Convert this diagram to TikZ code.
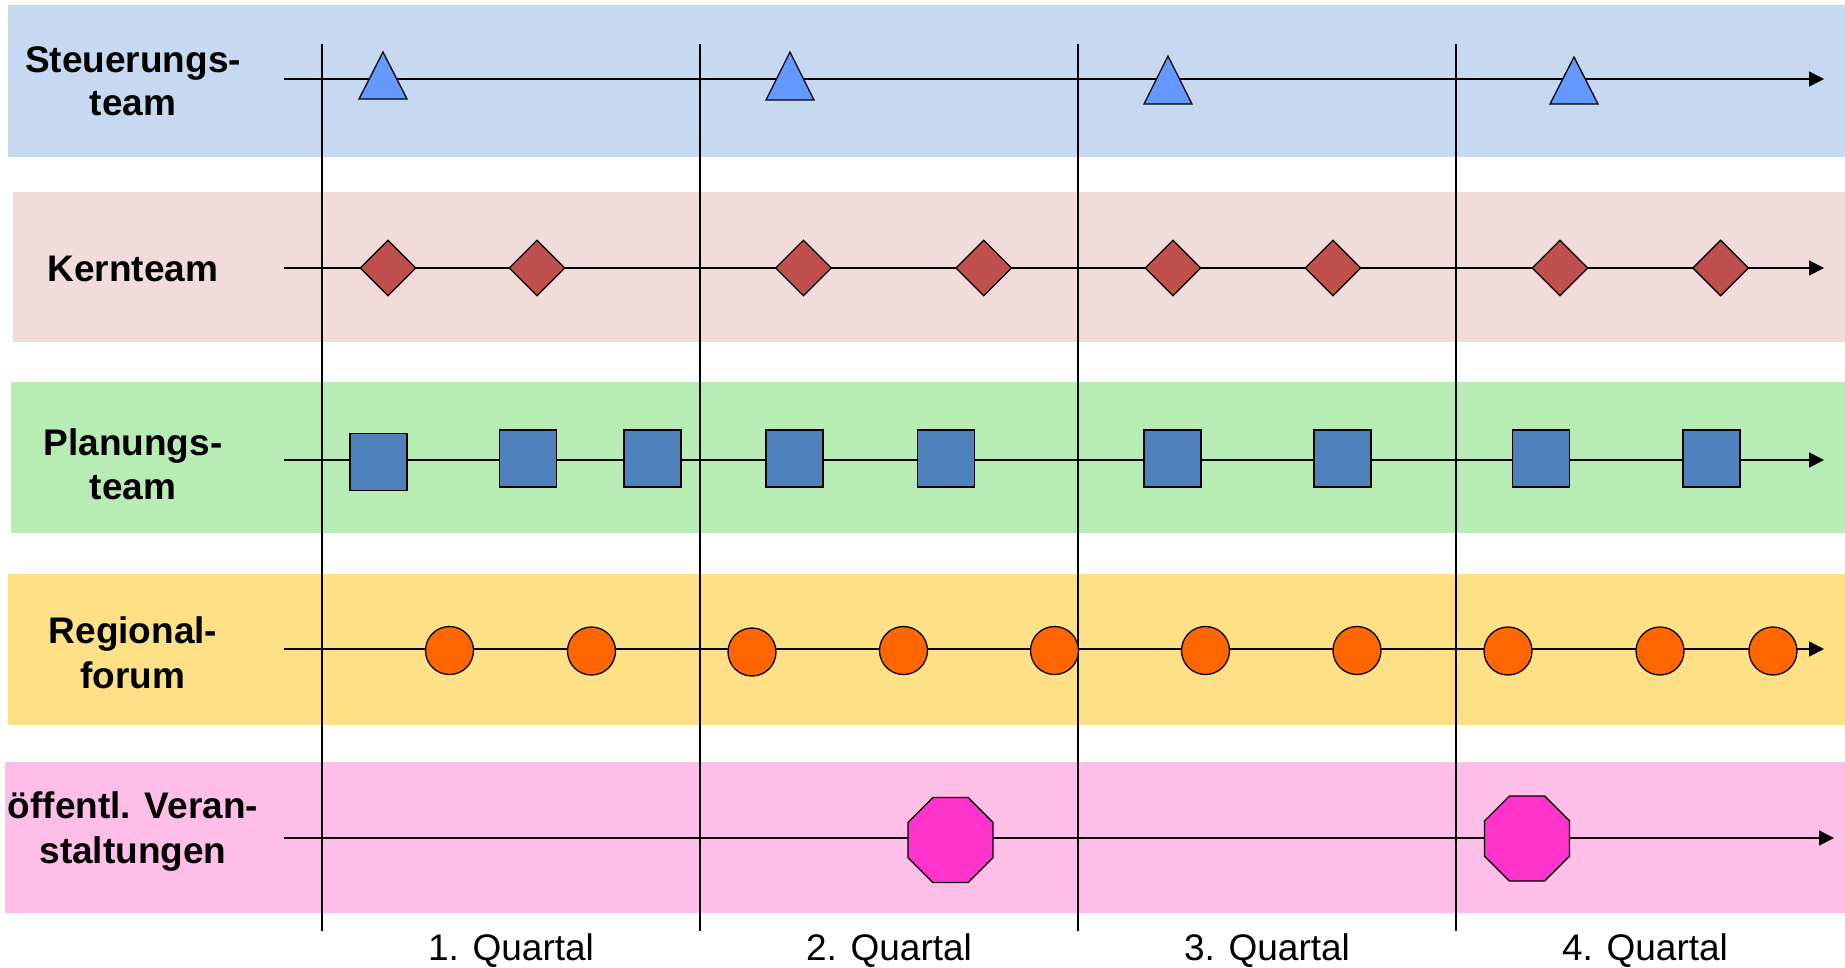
\documentclass[tikz,border=0pt]{standalone}
\usepackage{fontspec}
\setmainfont{Liberation Sans}
\usetikzlibrary{shapes.geometric,arrows.meta}
\definecolor{bandA}{HTML}{C6D9F1}
\definecolor{bandB}{HTML}{F2DCDB}
\definecolor{bandC}{HTML}{B7ECB4}
\definecolor{bandD}{HTML}{FEE086}
\definecolor{bandE}{HTML}{FFBEE8}
\definecolor{triC}{HTML}{6699FF}
\definecolor{diaC}{HTML}{C0504D}
\definecolor{sqC}{HTML}{4F81BD}
\definecolor{cirC}{HTML}{FF6600}
\definecolor{octC}{HTML}{FF33CC}
\tikzset{
  lbl/.style={font=\bfseries\fontsize{37}{45}\selectfont, anchor=base, inner sep=0pt},
  qlbl/.style={font=\fontsize{37}{45}\selectfont, anchor=base, inner sep=0pt},
  tline/.style={line width=1.6pt, -{Triangle[length=15pt,width=15pt]}},
  vline/.style={line width=1.3pt},
  tri/.style={draw, line width=1.3pt, fill=triC, line join=miter},
  dia/.style={diamond, draw, line width=1.3pt, fill=diaC, minimum width=56pt, minimum height=56pt, inner sep=0pt},
  sq/.style={rectangle, draw, line width=1.3pt, fill=sqC, minimum size=57pt, inner sep=0pt},
  cir/.style={circle, draw, line width=1.3pt, fill=cirC, minimum size=48pt, inner sep=0pt},
  oct/.style={regular polygon, regular polygon sides=8, draw, line width=1.3pt, fill=octC, minimum size=92pt, inner sep=0pt},
}
\begin{document}
\begin{tikzpicture}[x=1pt,y=-1pt]
\useasboundingbox (0,0) rectangle (1845,967);
% bands
\fill[bandA] (8,5) rectangle (1845,157);
\fill[bandB] (13,192) rectangle (1845,342);
\fill[bandC] (11,382) rectangle (1845,533);
\fill[bandD] (8,574) rectangle (1845,725);
\fill[bandE] (5,762) rectangle (1845,913);
% labels
\node[lbl] (l1a) at (133,72) {Steuerungs-};
\node[lbl] (l1b) at (133,115) {team};
\node[lbl] (l2a) at (133,281) {Kernteam};
\node[lbl] (l3a) at (133,455) {Planungs-};
\node[lbl] (l3b) at (133,499) {team};
\node[lbl] (l4a) at (133,643) {Regional-};
\node[lbl] (l4b) at (133,688) {forum};
\node[lbl] (l5a) at (133,818) {öffentl. Veran-};
\node[lbl] (l5b) at (133,863) {staltungen};
% quarter separators
\foreach \i/\x in {1/322,2/700,3/1078,4/1456}{
  \coordinate (vt\i) at (\x,44);
  \coordinate (vb\i) at (\x,931);
  \draw[vline] (vt\i) -- (vb\i);
}
% quarter labels
\node[qlbl] (q1) at (511,960) {1. Quartal};
\node[qlbl] (q2) at (889,960) {2. Quartal};
\node[qlbl] (q3) at (1267,960) {3. Quartal};
\node[qlbl] (q4) at (1645,960) {4. Quartal};
% timelines
\coordinate (s1) at (284,79);   \coordinate (e1) at (1824,79);
\coordinate (s2) at (284,268);  \coordinate (e2) at (1824,268);
\coordinate (s3) at (284,460);  \coordinate (e3) at (1824,460);
\coordinate (s4) at (284,649);  \coordinate (e4) at (1824,649);
\coordinate (s5) at (284,838);  \coordinate (e5) at (1834,838);
\foreach \i in {1,...,5}{\draw[tline] (s\i) -- (e\i);}
% Steuerungsteam triangles
\foreach \x/\t/\b in {383/52/99, 790/52/100, 1168/56/104, 1574/57/104}{
  \draw[tri] (\x-24,\b) -- (\x,\t) -- (\x+24,\b) -- cycle;
}
% Kernteam diamonds
\foreach \i/\x in {1/388,2/537,3/803.5,4/983.7,5/1173,6/1333,7/1560,8/1720.6}{
  \node[dia] (d\i) at (\x,268) {};
}
% Planungsteam squares
\node[sq] (p1) at (378.5,462) {};
\foreach \i/\x in {2/528,3/652.5,4/794.5,5/946,6/1172.5,7/1342.5,8/1541,9/1711.5}{
  \node[sq] (p\i) at (\x,458.5) {};
}
% Regionalforum circles
\foreach \i/\x/\y in {1/449.5/650.5,2/591.5/651,3/752/652,4/903.5/650.5,5/1054.5/650.5,6/1205.5/650.5,7/1357/650.5,8/1508/651,9/1660/651,10/1773/651}{
  \node[cir] (c\i) at (\x,\y) {};
}
% public events octagons
\node[oct] (o1) at (950.5,840) {};
\node[oct] (o2) at (1527,838.5) {};
\end{tikzpicture}
\end{document}
